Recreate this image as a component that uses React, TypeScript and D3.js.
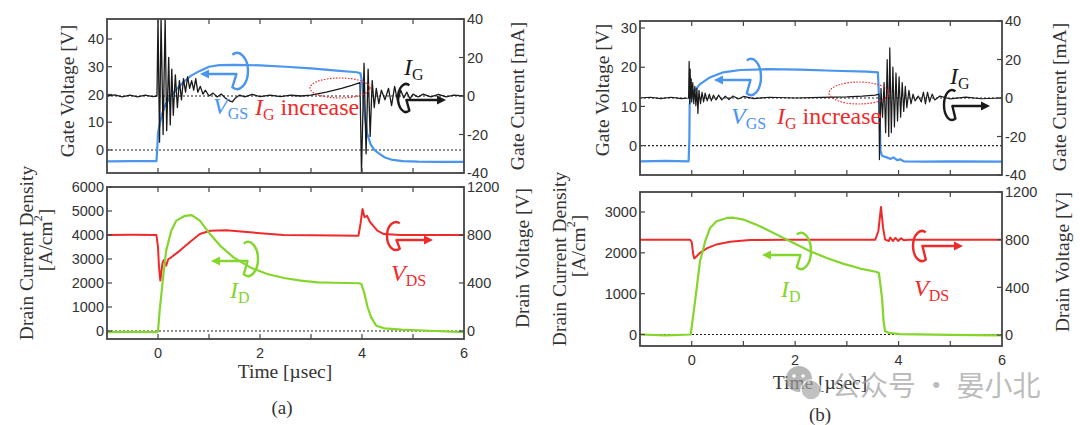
import React from 'react';
import * as d3 from 'd3';

type Pt = [number, number];

// ---------- tick values ----------
const TIME_TICKS = [0, 1, 2, 3, 4, 5];
const TIME_LABELS = [0, 2, 4, 6];
const GATE_V_TICKS_A = [0, 10, 20, 30, 40];
const GATE_V_TICKS_B = [0, 10, 20, 30];
const GATE_I_TICKS = [-40, -20, 0, 20, 40];
const DRAIN_I_TICKS_A = [0, 1000, 2000, 3000, 4000, 5000, 6000];
const DRAIN_I_TICKS_B = [0, 1000, 2000, 3000];
const DRAIN_V_TICKS = [0, 400, 800, 1200];

// ---------- (a) gate voltage [V] ----------
const VGS_A: Pt[] = [
  [-1, -4.1], [-0.5, -4.0], [-0.03, -4.0], [-0.01, 2], [0.0, 6], [0.03, 9], [0.08, 13], [0.15, 16.5],
  [0.25, 19.5], [0.35, 21.5], [0.5, 24.5], [0.65, 26.8], [0.82, 28.5], [1.0, 30], [1.2, 30.6], [1.5, 30.7],
  [2.0, 30.5], [2.5, 30.0], [3.0, 29.4], [3.5, 28.6], [3.9, 28.0], [3.97, 27.6], [4.0, 24.5], [4.05, 13],
  [4.1, 6], [4.17, 2], [4.24, 0], [4.35, -1.5], [4.45, -2.7], [4.6, -3.6], [4.8, -4.0], [5.1, -4.2],
  [5.5, -4.3], [6, -4.3],
];
// ---------- (a) gate current [mA] ----------
const IG_A: Pt[] = [
  [-1, 0], [-0.85, 0.6], [-0.7, -0.4], [-0.55, 0.5], [-0.4, -0.5], [-0.25, 0.4], [-0.1, -0.3], [-0.02, 0],
  [0.0, 40], [0.03, -24], [0.06, 40], [0.1, -20], [0.14, 40], [0.17, -18], [0.21, 20], [0.24, -15],
  [0.27, 14], [0.3, -10], [0.34, 11], [0.38, -6], [0.42, 8], [0.46, -2], [0.5, 9], [0.54, 2], [0.58, 10],
  [0.62, 4], [0.66, 8], [0.7, 3], [0.74, 9], [0.78, 2], [0.83, 5], [0.88, 1], [0.93, 3], [1.0, 0],
  [1.08, 1.5], [1.16, -0.5], [1.24, 1], [1.32, -1], [1.4, -2.5], [1.46, -3], [1.52, -1], [1.6, 0.5],
  [1.7, -0.5], [1.85, 0.8], [2.0, -0.3], [2.2, 0.5], [2.4, -0.3], [2.6, 0.4], [2.8, 0], [3.0, 0.5],
  [3.3, 2], [3.6, 4], [3.8, 5.5], [3.96, 7], [3.99, -40], [4.04, 17], [4.08, -30], [4.12, 14], [4.16, -21],
  [4.2, 8], [4.24, -6], [4.28, 4], [4.33, -4], [4.38, 3], [4.45, -2], [4.52, 4], [4.58, -5], [4.64, 5],
  [4.7, -3], [4.76, 3], [4.82, -1], [4.88, 2], [4.94, -1.5], [5.0, 1], [5.1, -0.5], [5.2, 1], [5.35, -0.5],
  [5.5, 0.8], [5.65, -0.5], [5.8, 0.5], [6, 0],
];
// ---------- (a) drain current density [A/cm2] ----------
const ID_A: Pt[] = [
  [-1, -50], [-0.5, -40], [-0.02, -50], [0, 0], [0.033, 850], [0.1, 2240], [0.16, 3350], [0.26, 4180],
  [0.36, 4600], [0.53, 4800], [0.66, 4830], [0.82, 4600], [1.02, 4040], [1.22, 3550], [1.48, 3070],
  [1.81, 2650], [2.14, 2375], [2.47, 2210], [2.8, 2100], [3.13, 2030], [3.45, 2010], [3.95, 1990],
  [3.99, 1950], [4.05, 1540], [4.11, 990], [4.18, 570], [4.28, 220], [4.44, 110], [4.77, 60], [5.43, 0],
  [6, -50],
];
// ---------- (a) drain voltage [V] ----------
const VDS_A: Pt[] = [
  [-1, 800], [-0.5, 802], [-0.03, 800], [0.0, 700], [0.02, 530], [0.046, 420], [0.085, 560], [0.11, 590],
  [0.13, 575], [0.16, 545], [0.2, 598], [0.26, 614], [0.43, 670], [0.62, 740], [0.82, 808], [1.02, 836],
  [1.34, 840], [1.8, 822], [2.46, 800], [3.0, 798], [3.5, 796], [3.93, 794], [3.97, 892], [4.01, 1016],
  [4.05, 948], [4.1, 960], [4.16, 906], [4.23, 872], [4.3, 836], [4.43, 808], [4.75, 800], [5.5, 800],
  [6, 800],
];

// ---------- (b) gate voltage [V] ----------
const VGS_B: Pt[] = [
  [-1, -4], [-0.5, -3.9], [-0.06, -4.0], [-0.045, 2], [-0.04, 10.5], [0.03, 13.6], [0.16, 15.7],
  [0.35, 17.4], [0.61, 18.7], [0.94, 19.3], [1.45, 19.5], [2.1, 19.4], [2.74, 19.1], [3.39, 18.9],
  [3.6, 18.7], [3.63, 10], [3.65, -1.3], [3.68, -2.6], [3.77, -3.0], [3.85, -3.4], [3.9, -3.0],
  [3.97, -3.7], [4.03, -3.5], [4.1, -4], [4.5, -4.1], [5, -4], [6, -4.1],
];
// ---------- (b) gate current [mA] ----------
const IG_B: Pt[] = [
  [-1, 0], [-0.8, 0.4], [-0.6, -0.3], [-0.4, 0.4], [-0.2, -0.3], [-0.06, 0], [-0.05, 19], [-0.04, -3],
  [-0.03, 15], [-0.02, 0], [-0.01, 10], [0.0, -2], [0.02, 8], [0.04, -3], [0.06, 6], [0.08, -4], [0.1, 5],
  [0.12, -8], [0.14, 4], [0.17, -3], [0.2, 3], [0.23, -2], [0.26, 2.5], [0.3, -1.5], [0.34, 2], [0.38, -1.5],
  [0.42, 1.5], [0.47, -1], [0.52, 1.5], [0.58, -1], [0.65, 1], [0.72, -0.8], [0.8, 1], [0.9, -0.5],
  [1.0, 0.8], [1.2, -0.3], [1.5, 0.4], [2.0, 0], [2.5, 0.3], [3.0, 0.6], [3.3, 1], [3.55, 1.5], [3.62, 2],
  [3.63, -32], [3.66, 5], [3.69, -10], [3.72, 8], [3.75, -18], [3.78, 20], [3.81, -20], [3.83, 26],
  [3.86, -18], [3.89, 16], [3.92, -15], [3.95, 13], [3.98, -12], [4.01, 11], [4.04, -10], [4.07, 8],
  [4.1, -7], [4.13, 6], [4.16, -5], [4.2, 4], [4.24, -3], [4.28, 2], [4.32, -1.5], [4.38, 1], [4.44, -2],
  [4.48, 3], [4.52, -3], [4.56, 3], [4.6, -2], [4.65, 2], [4.7, -1], [4.8, 1], [5.0, -0.5], [5.3, 0.5],
  [5.6, -0.4], [6, 0],
];
// ---------- (b) drain current density [A/cm2] ----------
const ID_B: Pt[] = [
  [-1, 0], [-0.5, -20], [-0.02, 0], [0.032, 485], [0.097, 1140], [0.16, 1790], [0.26, 2280], [0.355, 2610],
  [0.48, 2775], [0.68, 2855], [0.81, 2860], [1.0, 2815], [1.32, 2650], [1.65, 2445], [1.97, 2240],
  [2.29, 2040], [2.61, 1875], [2.94, 1730], [3.26, 1615], [3.58, 1530], [3.62, 1500], [3.68, 895],
  [3.71, 320], [3.74, 80], [3.81, 40], [4.03, 10], [5, -10], [6, -20],
];
// ---------- (b) drain voltage [V] ----------
const VDS_B: Pt[] = [
  [-1, 800], [-0.03, 800], [0, 780], [0.03, 676], [0.05, 643], [0.1, 663], [0.16, 690], [0.29, 727],
  [0.48, 760], [0.74, 783], [1.13, 797], [1.77, 800], [3.0, 800], [3.55, 800], [3.61, 873], [3.66, 1075],
  [3.7, 901], [3.74, 800], [3.81, 789], [3.84, 817], [3.89, 789], [3.94, 815], [3.99, 790], [4.05, 812],
  [4.1, 795], [4.2, 800], [6, 800],
];

// ---------- styles ----------
const SERIF = '"Liberation Serif", "DejaVu Serif", serif';
const SANS = '"Liberation Sans", Arial, sans-serif';
const CJK = '"Noto Sans CJK SC", sans-serif';
const BLUE = '#4a95ee';
const GREEN = '#84d52c';
const RED = '#ee2b2b';
const BLACK = '#1a1a1a';
const TXT = '#333';
const FRAME = '#444';

type Series = { data: Pt[]; axis: 'L' | 'R'; color: string; width: number };

interface PanelProps {
  id: string;
  x0: number; x1: number; y0: number; y1: number;
  lDom: [number, number]; rDom: [number, number];
  lTicks: number[]; rTicks: number[];
  series: Series[];
  dotted: { axis: 'L' | 'R'; v: number }[];
  xLabels: boolean;
}

function Panel(p: PanelProps) {
  const x = d3.scaleLinear().domain([-1, 6]).range([p.x0, p.x1]);
  const yl = d3.scaleLinear().domain(p.lDom).range([p.y1, p.y0]);
  const yr = d3.scaleLinear().domain(p.rDom).range([p.y1, p.y0]);
  const tk = 5;
  return (
    <g>
      <defs>
        <clipPath id={p.id}>
          <rect x={p.x0} y={p.y0} width={p.x1 - p.x0} height={p.y1 - p.y0} />
        </clipPath>
      </defs>
      <g clipPath={`url(#${p.id})`}>
        {p.dotted.map((d, i) => {
          const y = (d.axis === 'L' ? yl : yr)(d.v);
          return <line key={i} x1={p.x0} x2={p.x1} y1={y} y2={y} stroke="#222" strokeWidth={1.1} strokeDasharray="2,2" />;
        })}
        {p.series.map((s, i) => {
          const ys = s.axis === 'L' ? yl : yr;
          const line = d3.line<Pt>().x((d) => x(d[0])).y((d) => ys(d[1]));
          return <path key={i} d={line(s.data) || ''} fill="none" stroke={s.color} strokeWidth={s.width} strokeLinejoin="round" />;
        })}
      </g>
      {TIME_TICKS.map((t) => (
        <g key={'t' + t}>
          <line x1={x(t)} x2={x(t)} y1={p.y1} y2={p.y1 - tk} stroke={FRAME} strokeWidth={1.2} />
          <line x1={x(t)} x2={x(t)} y1={p.y0} y2={p.y0 + tk} stroke={FRAME} strokeWidth={1.2} />
        </g>
      ))}
      {p.lTicks.map((v) => (
        <g key={'l' + v}>
          <line x1={p.x0} x2={p.x0 + tk} y1={yl(v)} y2={yl(v)} stroke={FRAME} strokeWidth={1.2} />
          <text x={p.x0 - 3} y={yl(v)} dy="0.36em" textAnchor="end" fontFamily={SANS} fontSize={14.5} fill={TXT}>{v}</text>
        </g>
      ))}
      {p.rTicks.map((v) => (
        <g key={'r' + v}>
          <line x1={p.x1} x2={p.x1 - tk} y1={yr(v)} y2={yr(v)} stroke={FRAME} strokeWidth={1.2} />
          <text x={p.x1 + 3} y={yr(v)} dy="0.36em" textAnchor="start" fontFamily={SANS} fontSize={14.5} fill={TXT}>{v}</text>
        </g>
      ))}
      {p.xLabels && TIME_LABELS.map((t) => (
        <text key={'x' + t} x={x(t)} y={p.y1 + 19} textAnchor="middle" fontFamily={SANS} fontSize={14.5} fill={TXT}>{t}</text>
      ))}
      <rect x={p.x0} y={p.y0} width={p.x1 - p.x0} height={p.y1 - p.y0} fill="none" stroke={FRAME} strokeWidth={1.8} />
    </g>
  );
}

function Loop({ cx, cy, rx, ry, dir, tip, color, ay }: { cx: number; cy: number; rx: number; ry: number; dir: number; tip: number; color: string; ay: number }) {
  const pt = (deg: number) => {
    const a = (deg * Math.PI) / 180;
    return [cx + rx * Math.cos(a), cy + ry * Math.sin(a)];
  };
  let d: string;
  if (dir < 0) {
    const s = pt(245), e = pt(115);
    d = `M${s[0]},${s[1]} A${rx},${ry} 0 1 1 ${e[0]},${e[1]} L${cx - rx * 0.05},${ay} L${tip + 6},${ay}`;
  } else {
    const s = pt(295), e = pt(65);
    d = `M${s[0]},${s[1]} A${rx},${ry} 0 1 0 ${e[0]},${e[1]} L${cx + rx * 0.05},${ay} L${tip - 6},${ay}`;
  }
  const h = dir < 0 ? 9 : -9;
  return (
    <g>
      <path d={d} fill="none" stroke={color} strokeWidth={2.4} strokeLinejoin="round" />
      <path d={`M${tip},${ay} L${tip + h},${ay - 4.5} L${tip + h},${ay + 4.5} Z`} fill={color} />
    </g>
  );
}

function Sym({ x, y, main, sub, color }: { x: number; y: number; main: string; sub: string; color: string }) {
  return (
    <text x={x} y={y} fontFamily={SERIF} fontSize={24} fill={color}>
      <tspan fontStyle="italic">{main}</tspan>
      <tspan fontSize={16} dy={5}>{sub}</tspan>
    </text>
  );
}

function RotText({ x, y, size, children }: { x: number; y: number; size: number; children: React.ReactNode }) {
  return (
    <text transform={`translate(${x},${y}) rotate(-90)`} textAnchor="middle" dominantBaseline="central" fontFamily={SERIF} fontSize={size} fill={TXT}>
      {children}
    </text>
  );
}

export default function App() {
  return (
    <svg width={1080} height={425} viewBox="0 0 1080 425" style={{ position: 'absolute', left: 0, top: 0, background: '#fff' }}>
      <rect width={1080} height={425} fill="#fff" />

      {/* ===== (a) ===== */}
      <Panel id="at" x0={107} x1={464} y0={19} y1={173} lDom={[-8.3, 47.2]} rDom={[-40, 40]}
        lTicks={GATE_V_TICKS_A} rTicks={GATE_I_TICKS}
        series={[{ data: VGS_A, axis: 'L', color: BLUE, width: 2.2 }, { data: IG_A, axis: 'R', color: BLACK, width: 1.3 }]}
        dotted={[{ axis: 'L', v: 0 }, { axis: 'R', v: 0 }]} xLabels={false} />
      <Panel id="ab" x0={107} x1={464} y0={187} y1={339} lDom={[-333, 6000]} rDom={[-66.6, 1200]}
        lTicks={DRAIN_I_TICKS_A} rTicks={DRAIN_V_TICKS}
        series={[{ data: VDS_A, axis: 'R', color: RED, width: 2 }, { data: ID_A, axis: 'L', color: GREEN, width: 2.2 }]}
        dotted={[{ axis: 'L', v: 0 }]} xLabels={true} />

      <RotText x={67} y={91} size={19.5}>Gate Voltage [V]</RotText>
      <RotText x={517} y={96} size={19.5}>Gate Current [mA]</RotText>
      <RotText x={26} y={253} size={19.5}>Drain Current Density</RotText>
      <RotText x={45} y={240} size={19.5}>[A/cm<tspan dy={-7} fontSize={12}>2</tspan><tspan dy={7}>]</tspan></RotText>
      <RotText x={522} y={258} size={19.5}>Drain Voltage [V]</RotText>
      <text x={285} y={378} textAnchor="middle" fontFamily={SERIF} fontSize={19.5} fill={TXT}>Time [µsec]</text>
      <text x={282} y={414} textAnchor="middle" fontFamily={SERIF} fontSize={19} fill={TXT}>(a)</text>

      <Loop cx={237} cy={71} rx={11} ry={18} dir={-1} tip={200} ay={74} color={BLUE} />
      <Sym x={213} y={114} main="V" sub="GS" color={BLUE} />
      <text x={255} y={115} fontFamily={SERIF} fontSize={24} fill={RED}>
        <tspan fontStyle="italic">I</tspan><tspan fontSize={16} dy={5}>G</tspan><tspan dy={-5}> increase</tspan>
      </text>
      <ellipse cx={340} cy={88} rx={30} ry={10} fill="none" stroke={RED} strokeWidth={1.2} strokeDasharray="1.5,1.5" />
      <Sym x={404} y={75} main="I" sub="G" color={BLACK} />
      <Loop cx={406} cy={98} rx={8} ry={14} dir={1} tip={446} ay={100} color={BLACK} />

      <Loop cx={248} cy={259} rx={10} ry={17} dir={-1} tip={211} ay={261} color={GREEN} />
      <Sym x={230} y={298} main="I" sub="D" color={GREEN} />
      <Loop cx={396} cy={236} rx={9} ry={14} dir={1} tip={433} ay={240} color={RED} />
      <Sym x={391} y={281} main="V" sub="DS" color={RED} />

      {/* ===== (b) ===== */}
      <Panel id="bt" x0={640} x1={1002} y0={21} y1={175} lDom={[-7.5, 31.8]} rDom={[-40, 40]}
        lTicks={GATE_V_TICKS_B} rTicks={GATE_I_TICKS}
        series={[{ data: VGS_B, axis: 'L', color: BLUE, width: 2.2 }, { data: IG_B, axis: 'R', color: BLACK, width: 1.2 }]}
        dotted={[{ axis: 'L', v: 0 }, { axis: 'R', v: 0 }]} xLabels={false} />
      <Panel id="bb" x0={640} x1={1002} y0={192} y1={346} lDom={[-282, 3490]} rDom={[-92, 1200]}
        lTicks={DRAIN_I_TICKS_B} rTicks={DRAIN_V_TICKS}
        series={[{ data: VDS_B, axis: 'R', color: RED, width: 2 }, { data: ID_B, axis: 'L', color: GREEN, width: 2.2 }]}
        dotted={[{ axis: 'L', v: 0 }]} xLabels={true} />

      <RotText x={602} y={90} size={19.5}>Gate Voltage [V]</RotText>
      <RotText x={1059} y={97} size={19.5}>Gate Current [mA]</RotText>
      <RotText x={559} y={259} size={19.5}>Drain Current Density</RotText>
      <RotText x={578} y={246} size={19.5}>[A/cm<tspan dy={-7} fontSize={12}>2</tspan><tspan dy={7}>]</tspan></RotText>
      <RotText x={1062} y={262} size={19.5}>Drain Voltage [V]</RotText>
      <text x={820} y={389} textAnchor="middle" fontFamily={SERIF} fontSize={19.5} fill={TXT}>Time [µsec]</text>
      <text x={820} y={421} textAnchor="middle" fontFamily={SERIF} fontSize={19} fill={TXT}>(b)</text>

      <Loop cx={751} cy={77} rx={10} ry={18} dir={-1} tip={714} ay={80} color={BLUE} />
      <Sym x={731} y={124} main="V" sub="GS" color={BLUE} />
      <text x={777} y={124} fontFamily={SERIF} fontSize={24} fill={RED}>
        <tspan fontStyle="italic">I</tspan><tspan fontSize={16} dy={5}>G</tspan><tspan dy={-5}> increase</tspan>
      </text>
      <ellipse cx={859} cy={93} rx={30} ry={11} fill="none" stroke={RED} strokeWidth={1.2} strokeDasharray="1.5,1.5" />
      <Sym x={950} y={84} main="I" sub="G" color={BLACK} />
      <Loop cx={952} cy={105} rx={8} ry={15} dir={1} tip={990} ay={106} color={BLACK} />

      <Loop cx={801} cy={251} rx={10} ry={18} dir={-1} tip={762} ay={255} color={GREEN} />
      <Sym x={781} y={297} main="I" sub="D" color={GREEN} />
      <Loop cx={922} cy={246} rx={9} ry={15} dir={1} tip={963} ay={246} color={RED} />
      <Sym x={914} y={296} main="V" sub="DS" color={RED} />

      {/* watermark */}
      <g opacity={0.7}>
        <circle cx={799} cy={379} r={13} fill="#9a9a9a" />
        <circle cx={811} cy={390} r={10} fill="#a8a8a8" stroke="#fff" strokeWidth={1.5} />
        <circle cx={794} cy={376} r={1.8} fill="#fff" />
        <circle cx={803} cy={376} r={1.8} fill="#fff" />
        <text x={832} y={396} fontFamily={CJK} fontSize={28} fill="#a0a0a0">公众号 · 晏小北</text>
      </g>
    </svg>
  );
}
